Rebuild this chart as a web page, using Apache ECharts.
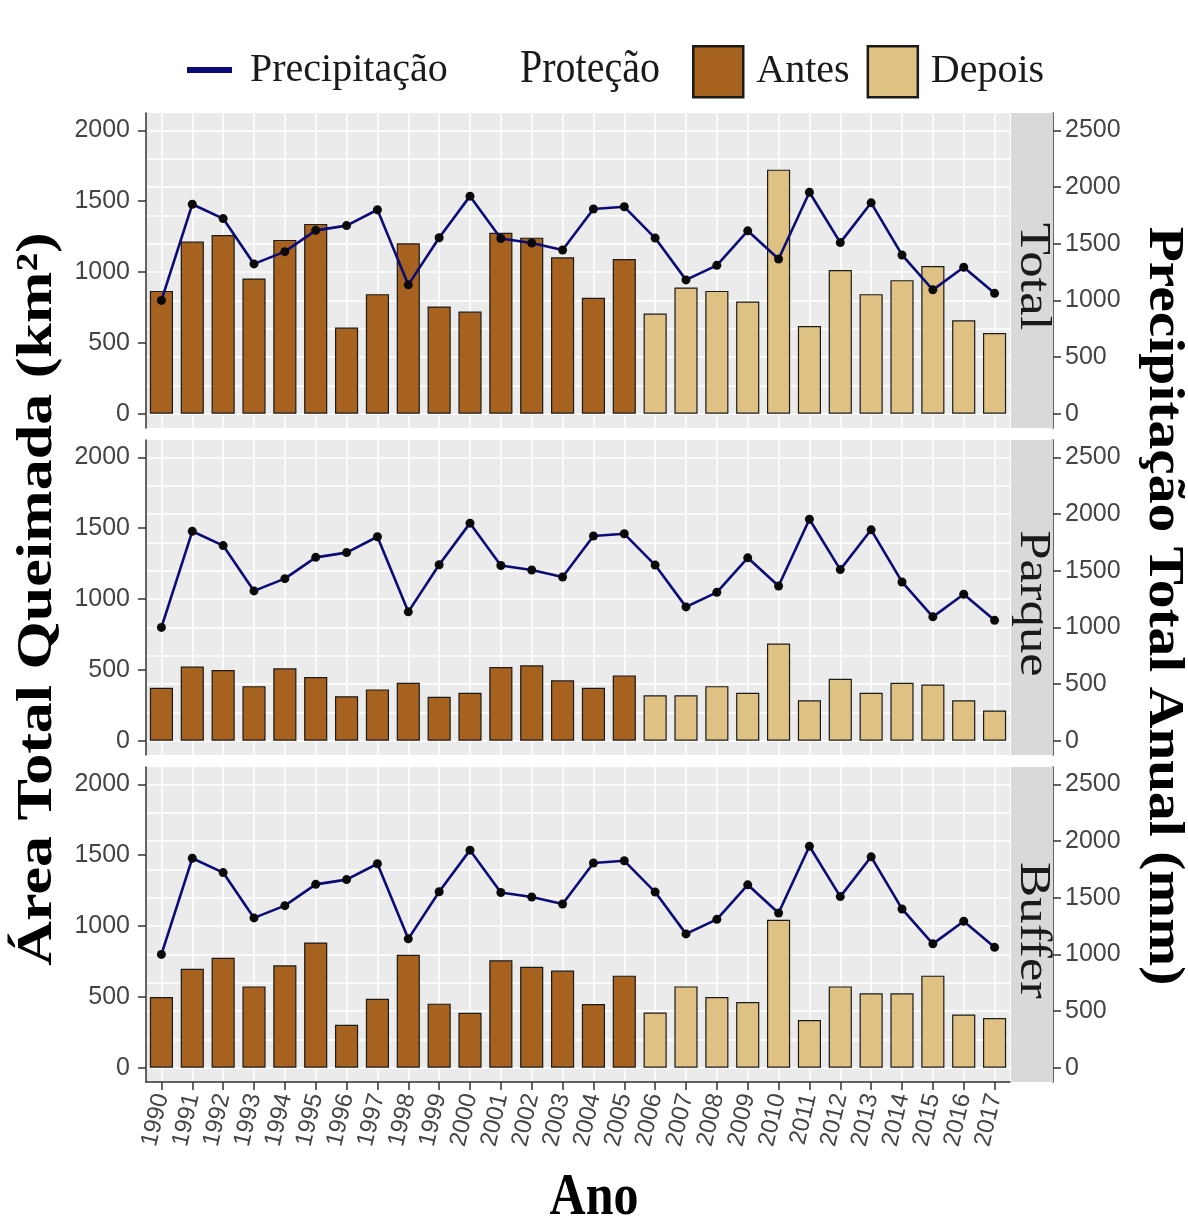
<!DOCTYPE html>
<html><head><meta charset="utf-8">
<script src="https://cdn.jsdelivr.net/npm/echarts@6/dist/echarts.min.js"></script>
<style>html,body{margin:0;padding:0;background:#fff}#c{width:1188px;height:1222px}</style>
</head><body><div id="c"></div>
<script>
// ---------- data ----------
const years = ['1990','1991','1992','1993','1994','1995','1996','1997','1998','1999','2000','2001','2002','2003','2004','2005','2006','2007','2008','2009','2010','2011','2012','2013','2014','2015','2016','2017'];
const lastYearAntes = '2005';
const panelNames = ['Total', 'Parque', 'Buffer'];
const areaTotal  = [867,1215,1262,955,1227,1340,608,844,1203,757,721,1277,1243,1104,818,1092,707,891,867,792,1723,619,1014,844,943,1043,660,570];
const areaParque = [374,523,499,385,511,449,314,362,409,310,338,520,532,426,374,461,321,321,385,338,686,286,437,338,409,397,286,213];
const areaBuffer = [499,698,776,574,723,884,303,487,797,452,388,759,712,686,450,650,390,574,499,464,1045,336,574,525,525,650,376,350];
const precipitacao = [1000,1848,1722,1322,1430,1618,1660,1800,1137,1553,1920,1546,1506,1445,1807,1826,1550,1181,1309,1614,1365,1954,1510,1861,1401,1093,1292,1062];
const areaTicks = [0,500,1000,1500,2000];
const precTicks = [0,500,1000,1500,2000,2500];
const precGrid  = [0,250,500,750,1000,1250,1500,1750,2000,2250,2500];
const areaByPanel = [areaTotal, areaParque, areaBuffer];

// ---------- layout / style ----------
const PANEL_TOP = [113, 440, 767];
const PANEL_H = 315;
const GRID_LEFT = 146, GRID_W = 864;
const STRIP_W = 43;
const AREA_MIN = -101, AREA_MAX = 2123, SEC = 1.25;
const C_ANTES = '#A6621E', C_DEPOIS = '#DFC283', C_LINE = '#0B0B78';
const AXIS_C = '#333333', LABEL_C = '#444444';
const SANS = 'Liberation Sans, Arial, sans-serif';
const SERIF = 'Liberation Serif, Times New Roman, serif';
const plain = v => String(v);

const cut = years.indexOf(lastYearAntes);
const grid = [], xAxis = [], yAxis = [], series = [], graphic = [];

PANEL_TOP.forEach((top, i) => {
  grid.push({left: GRID_LEFT, width: GRID_W, top: top, height: PANEL_H, show: true,
             backgroundColor: '#EBEBEB', borderWidth: 0, containLabel: false});
  const bottom = i === 2;
  xAxis.push({
    type: 'category', gridIndex: i, data: years, boundaryGap: true,
    axisLine: {show: bottom, onZero: false, lineStyle: {color: AXIS_C, width: 1.5}},
    axisTick: {show: bottom, alignWithLabel: true, length: 8, lineStyle: {color: AXIS_C, width: 1.5}},
    axisLabel: {show: bottom, rotate: 77, fontSize: 24, color: LABEL_C, fontFamily: SANS, margin: 12, interval: 0},
    splitLine: {show: true, alignWithLabel: true, interval: 0, lineStyle: {color: '#FFFFFF', width: 1.5}}
  });
  // left: burned area
  yAxis.push({
    type: 'value', gridIndex: i, position: 'left', min: AREA_MIN, max: AREA_MAX,
    axisLine: {show: true, lineStyle: {color: AXIS_C, width: 1.5}},
    axisTick: {show: true, length: 8, customValues: areaTicks, lineStyle: {color: AXIS_C, width: 1.5}},
    axisLabel: {show: true, customValues: areaTicks, formatter: plain, fontSize: 25, color: LABEL_C, fontFamily: SANS, margin: 16},
    splitLine: {show: false}
  });
  // right: precipitation
  yAxis.push({
    type: 'value', gridIndex: i, position: 'right', offset: STRIP_W,
    min: AREA_MIN * SEC, max: AREA_MAX * SEC,
    axisLine: {show: true, lineStyle: {color: AXIS_C, width: 1.5}},
    axisTick: {show: true, length: 8, customValues: precTicks, lineStyle: {color: AXIS_C, width: 1.5}},
    axisLabel: {show: true, customValues: precTicks, formatter: plain, fontSize: 25, color: LABEL_C, fontFamily: SANS, margin: 12},
    splitLine: {show: false}
  });
  // hidden axis carrying the panel grid lines (precipitation scale)
  yAxis.push({
    type: 'value', gridIndex: i, position: 'right', min: AREA_MIN * SEC, max: AREA_MAX * SEC,
    axisLine: {show: false}, axisLabel: {show: false},
    axisTick: {show: false, customValues: precGrid},
    splitLine: {show: true, lineStyle: {color: '#FFFFFF', width: 1.5}}
  });

  const vals = areaByPanel[i];
  const barCommon = {type: 'bar', xAxisIndex: i, yAxisIndex: 3 * i, barWidth: '75%', barGap: '-100%',
                     animation: false};
  series.push(Object.assign({}, barCommon, {
    name: 'Antes', data: vals.map((v, k) => k <= cut ? v : null),
    itemStyle: {color: C_ANTES, borderColor: '#1A1A1A', borderWidth: 1.2}
  }));
  series.push(Object.assign({}, barCommon, {
    name: 'Depois', data: vals.map((v, k) => k > cut ? v : null),
    itemStyle: {color: C_DEPOIS, borderColor: '#1A1A1A', borderWidth: 1.2}
  }));
  series.push({
    type: 'line', name: 'Precipitação', xAxisIndex: i, yAxisIndex: 3 * i + 1, data: precipitacao,
    symbol: 'circle', symbolSize: 9, z: 5, animation: false,
    lineStyle: {color: C_LINE, width: 2.6},
    itemStyle: {color: '#0A0A0A'}
  });

  // facet strip
  graphic.push({type: 'rect', left: GRID_LEFT + GRID_W + 1, top: top,
                shape: {width: STRIP_W - 1, height: PANEL_H}, style: {fill: '#D9D9D9'}, z: 1});
  graphic.push({type: 'text', x: GRID_LEFT + GRID_W + 1 + STRIP_W / 2, y: top + PANEL_H / 2 + 6,
                rotation: -Math.PI / 2, scaleX: 1.2, scaleY: 1, z: 2,
                style: {text: panelNames[i], font: '44px ' + SERIF, fill: '#1A1A1A',
                        align: 'center', verticalAlign: 'middle'}});
});

// axis titles
graphic.push({type: 'text', x: 38, y: 599, rotation: Math.PI / 2, scaleX: 1.24, scaleY: 1,
  style: {text: 'Área Total Queimada (km²)', font: 'bold 50px ' + SERIF, fill: '#000',
          align: 'center', verticalAlign: 'middle'}});
graphic.push({type: 'text', x: 1163, y: 606, rotation: -Math.PI / 2, scaleX: 1.15, scaleY: 1,
  style: {text: 'Precipitação Total Anual (mm)', font: 'bold 50px ' + SERIF, fill: '#000',
          align: 'center', verticalAlign: 'middle'}});
graphic.push({type: 'text', x: 594, y: 1198, scaleX: 1, scaleY: 1.2,
  style: {text: 'Ano', font: 'bold 50px ' + SERIF, fill: '#000', align: 'center', verticalAlign: 'middle'}});
// legend title
graphic.push({type: 'text', x: 520, y: 70, scaleY: 1.15,
  style: {text: 'Proteção', font: '40px ' + SERIF, fill: '#1A1A1A', align: 'left', verticalAlign: 'middle'}});

const option = {
  backgroundColor: '#FFFFFF',
  animation: false,
  grid, xAxis, yAxis, series, graphic,
  legend: [
    {data: [{name: 'Precipitação', icon: 'rect', itemStyle: {color: C_LINE, borderWidth: 0}}],
     left: 187, top: 50, padding: 0, itemWidth: 45, itemHeight: 6,
     textStyle: {fontSize: 40, fontFamily: SERIF, color: '#1A1A1A', padding: [0, 0, 0, 13]}},
    {data: [{name: 'Antes', icon: 'rect', itemStyle: {color: C_ANTES, borderColor: '#1A1A1A', borderWidth: 2.5}},
            {name: 'Depois', icon: 'rect', itemStyle: {color: C_DEPOIS, borderColor: '#1A1A1A', borderWidth: 2.5}}],
     left: 692, top: 45, padding: 0, itemWidth: 50, itemHeight: 51, itemGap: 17,
     textStyle: {fontSize: 40, fontFamily: SERIF, color: '#1A1A1A', padding: [0, 0, 0, 8]}}
  ]
};
const chart = echarts.init(document.getElementById('c'));
chart.setOption(option);
</script></body></html>
